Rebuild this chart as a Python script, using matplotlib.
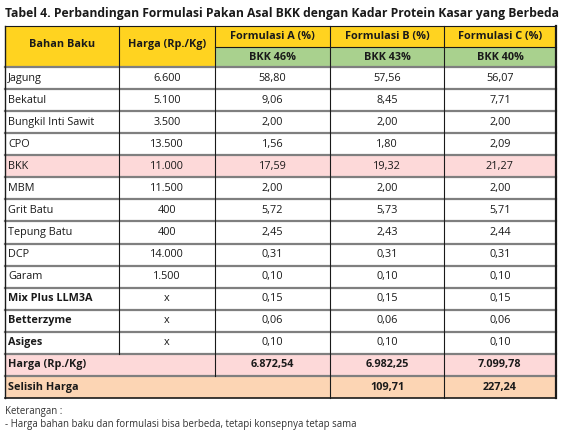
import matplotlib.pyplot as plt
from matplotlib.patches import Rectangle

plt.rcParams['font.family'] = ['Open Sans', 'DejaVu Sans']

title = "Tabel 4. Perbandingan Formulasi Pakan Asal BKK dengan Kadar Protein Kasar yang Berbeda"
col_heads = ["Bahan Baku", "Harga (Rp./Kg)", "Formulasi A (%)", "Formulasi B (%)", "Formulasi C (%)"]
sub_heads = ["BKK 46%", "BKK 43%", "BKK 40%"]
bahan = ["Jagung", "Bekatul", "Bungkil Inti Sawit", "CPO", "BKK", "MBM", "Grit Batu",
         "Tepung Batu", "DCP", "Garam", "Mix Plus LLM3A", "Betterzyme", "Asiges"]
harga = ["6.600", "5.100", "3.500", "13.500", "11.000", "11.500", "400",
         "400", "14.000", "1.500", "x", "x", "x"]
form_a = ["58,80", "9,06", "2,00", "1,56", "17,59", "2,00", "5,72", "2,45", "0,31", "0,10", "0,15", "0,06", "0,10"]
form_b = ["57,56", "8,45", "2,00", "1,80", "19,32", "2,00", "5,73", "2,43", "0,31", "0,10", "0,15", "0,06", "0,10"]
form_c = ["56,07", "7,71", "2,00", "2,09", "21,27", "2,00", "5,71", "2,44", "0,31", "0,10", "0,15", "0,06", "0,10"]
bold_rows = ["Mix Plus LLM3A", "Betterzyme", "Asiges"]
pink_rows = ["BKK"]
total_label = "Harga (Rp./Kg)"
total_vals = ["6.872,54", "6.982,25", "7.099,78"]
diff_label = "Selisih Harga"
diff_vals = ["109,71", "227,24"]
notes = ["Keterangan :", "- Harga bahan baku dan formulasi bisa berbeda, tetapi konsepnya tetap sama"]

fig = plt.figure(figsize=(5.66, 4.32), dpi=100)
ax = fig.add_axes([0, 0, 1, 1])
ax.set_xlim(0, 566); ax.set_ylim(432, 0); ax.axis('off')

# column edges in pixels
xs = [5, 119, 215, 330, 444, 556]
YT, YM, YB = 26, 47, 67
RH = 22.07
FS = 7.8
yellow, green, pink, orange = "#ffd320", "#a9d18e", "#fdd9d9", "#fcd5b4"

def rect(x0, x1, y0, y1, fc):
    ax.add_patch(Rectangle((x0, y0), x1 - x0, y1 - y0, fc=fc, ec='none'))

def txt(x, y, s, ha='center', bold=False, size=FS):
    ax.text(x, y, s, ha=ha, va='center', fontsize=size, fontweight='bold' if bold else 'normal', color='#1a1a1a')

ax.text(5, 13, title, ha='left', va='center', fontsize=8.75, fontweight='bold', color='#1a1a1a')

# header
rect(xs[0], xs[5], YT, YB, yellow)
rect(xs[2], xs[5], YM, YB, green)
for i, h in enumerate(col_heads):
    cx = (xs[i] + xs[i + 1]) / 2
    if i < 2:
        txt(cx, (YT + YB) / 2 - 2, h, bold=True)
    else:
        txt(cx, (YT + YM) / 2, h, bold=True)
for i, h in enumerate(sub_heads):
    txt((xs[i + 2] + xs[i + 3]) / 2, (YM + YB) / 2, h, bold=True)

# body
n = len(bahan)
for r in range(n):
    y0 = YB + r * RH
    yc = y0 + RH / 2
    if bahan[r] in pink_rows:
        rect(xs[0], xs[5], y0, y0 + RH, pink)
    txt(xs[0] + 3, yc, bahan[r], ha='left', bold=bahan[r] in bold_rows)
    for c, v in enumerate([harga[r], form_a[r], form_b[r], form_c[r]]):
        txt((xs[c + 1] + xs[c + 2]) / 2, yc, v)

y_tot = YB + n * RH
rect(xs[0], xs[5], y_tot, y_tot + RH, pink)
txt(xs[0] + 3, y_tot + RH / 2, total_label, ha='left', bold=True)
for c, v in enumerate(total_vals):
    txt((xs[c + 2] + xs[c + 3]) / 2, y_tot + RH / 2, v, bold=True)
y_dif = y_tot + RH
rect(xs[0], xs[5], y_dif, y_dif + RH, orange)
txt(xs[0] + 3, y_dif + RH / 2, diff_label, ha='left', bold=True)
for c, v in enumerate(diff_vals):
    txt((xs[c + 3] + xs[c + 4]) / 2, y_dif + RH / 2, v, bold=True)
y_end = y_dif + RH

# grid lines
for r in range(n + 2):
    y = YB + r * RH
    ax.plot([xs[0], xs[5]], [y, y], color='#7f7f7f', lw=1.6)
ax.plot([xs[2], xs[5]], [YM, YM], color='#1a1a1a', lw=0.8)
ax.plot([xs[0], xs[5]], [YT, YT], color='#1a1a1a', lw=0.8)
ax.plot([xs[0], xs[5]], [y_end, y_end], color='#1a1a1a', lw=1.2)
ax.plot([xs[0], xs[0]], [YT, y_end], color='#1a1a1a', lw=1.0)
ax.plot([xs[5], xs[5]], [YT, y_end], color='#1a1a1a', lw=1.6)
ax.plot([xs[1], xs[1]], [YT, y_tot], color='#1a1a1a', lw=0.8)
ax.plot([xs[2], xs[2]], [YT, y_dif], color='#1a1a1a', lw=0.8)
ax.plot([xs[3], xs[3]], [YT, y_end], color='#1a1a1a', lw=0.8)
ax.plot([xs[4], xs[4]], [YT, y_end], color='#1a1a1a', lw=0.8)

ax.text(5, y_end + 13, notes[0], ha='left', va='center', fontsize=6.9, color='#333333')
ax.text(5, y_end + 26, notes[1], ha='left', va='center', fontsize=6.9, color='#333333')

fig.savefig("out.png", dpi=100)
